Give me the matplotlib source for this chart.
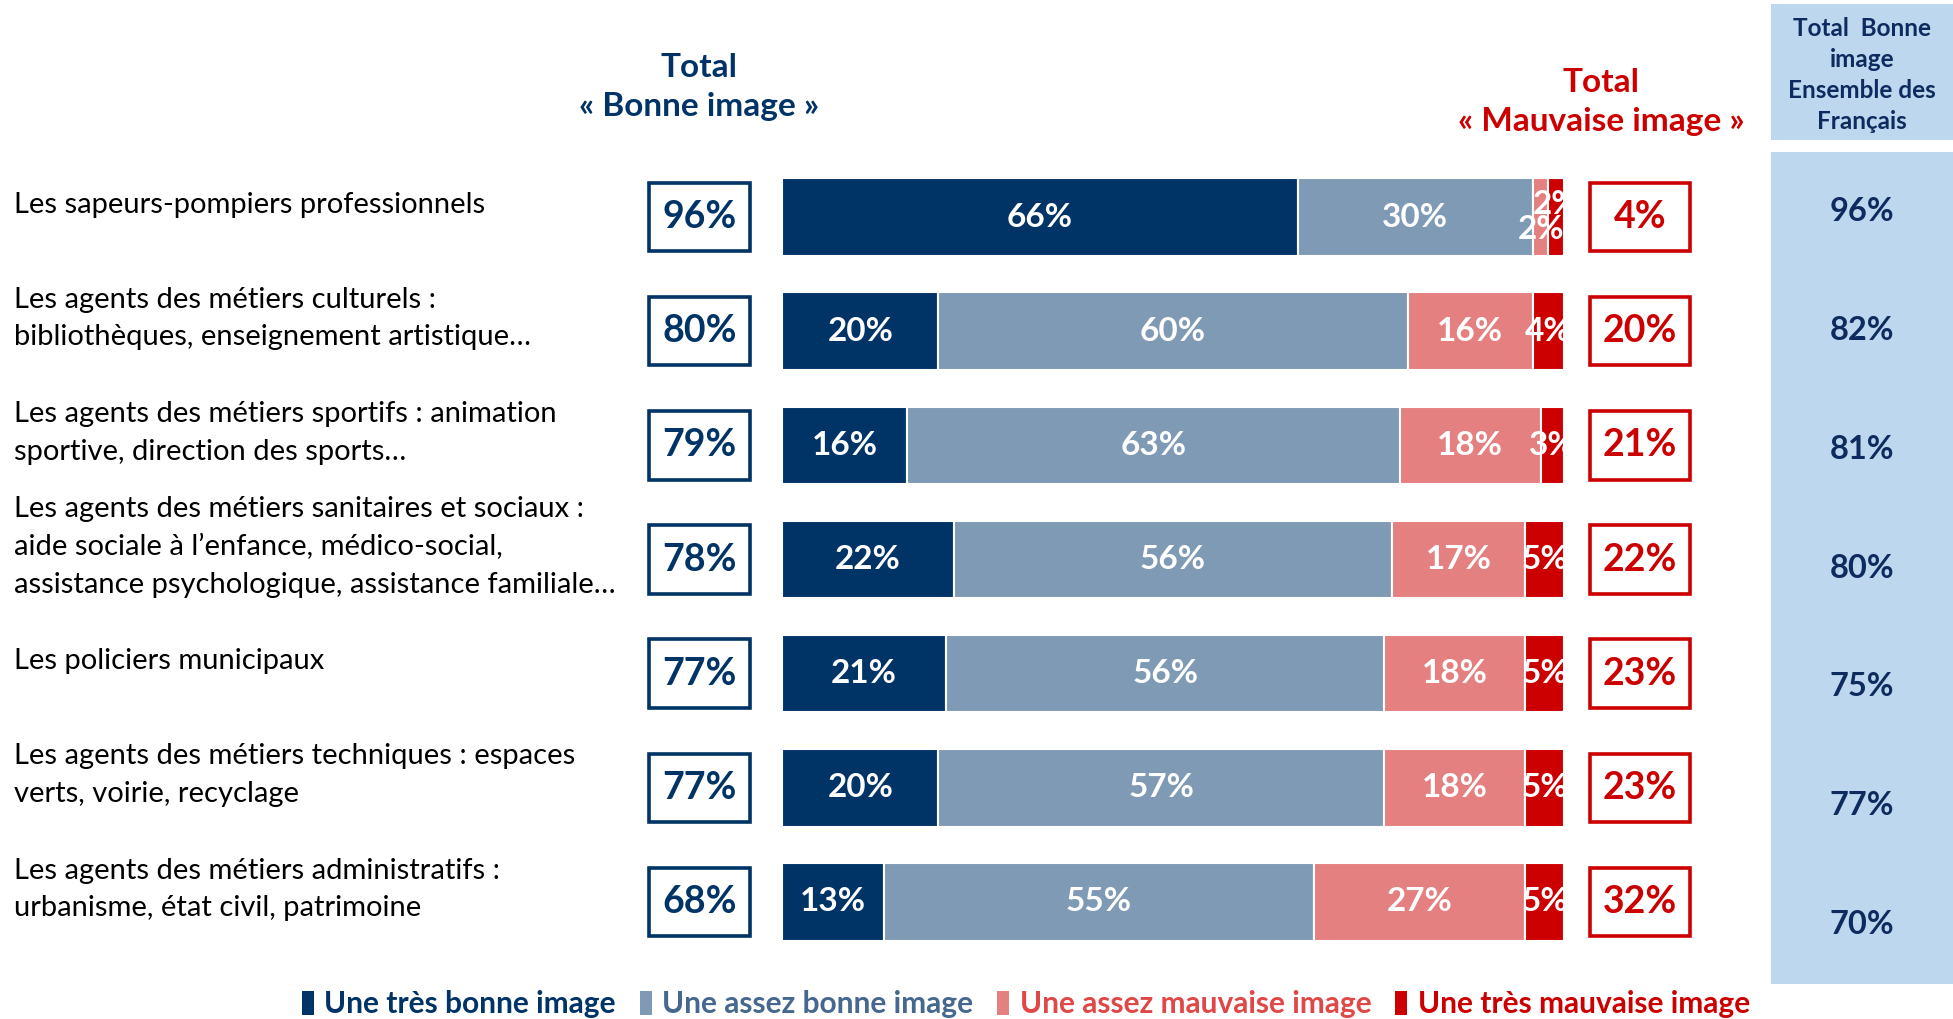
import numpy as np
import matplotlib.pyplot as plt
from matplotlib.patches import Rectangle, Patch

plt.rcParams['font.family'] = ['Lato', 'DejaVu Sans']

# Données
metiers = [
    "Les sapeurs-pompiers professionnels",
    "Les agents des métiers culturels :\nbibliothèques, enseignement artistique…",
    "Les agents des métiers sportifs : animation\nsportive, direction des sports…",
    "Les agents des métiers sanitaires et sociaux :\naide sociale à l’enfance, médico-social,\nassistance psychologique, assistance familiale…",
    "Les policiers municipaux",
    "Les agents des métiers techniques : espaces\nverts, voirie, recyclage",
    "Les agents des métiers administratifs :\nurbanisme, état civil, patrimoine",
]
tres_bonne = [66, 20, 16, 22, 21, 20, 13]
assez_bonne = [30, 60, 63, 56, 56, 57, 55]
assez_mauvaise = [2, 16, 18, 17, 18, 18, 27]
tres_mauvaise = [2, 4, 3, 5, 5, 5, 5]
total_bonne = [96, 80, 79, 78, 77, 77, 68]
total_mauvaise = [4, 20, 21, 22, 23, 23, 32]
ensemble_francais = [96, 82, 81, 80, 75, 77, 70]
series_noms = ["Une très bonne image", "Une assez bonne image",
               "Une assez mauvaise image", "Une très mauvaise image"]

NAVY = "#003366"
couleurs = [NAVY, "#7F9AB4", "#E48080", "#CC0000"]
couleurs_legende = [NAVY, "#46688E", "#E04848", "#CC0000"]
BLEU_COL = "#BDD7EE"
TEXTE_COL = "#0D2B5E"

W, H = 1953, 1019
fig = plt.figure(figsize=(W / 100, H / 100), dpi=100)

# axe des barres : 0-100 % sur 782 px
ax = fig.add_axes([782 / W, 1 - 959 / H, 782 / W, 799 / H])
ax.set_xlim(0, 100)
ax.set_ylim(6.5, -0.5)
ax.axis("off")

def px2x(px):
    return (px - 782) / 7.82

y = np.arange(len(metiers))
series = [tres_bonne, assez_bonne, assez_mauvaise, tres_mauvaise]
gauche = np.zeros(len(metiers))
for k, (vals, c) in enumerate(zip(series, couleurs)):
    ax.barh(y, vals, left=gauche, height=0.68, color=c,
            edgecolor="white", linewidth=1.5, label=series_noms[k])
    for i, v in enumerate(vals):
        cx = gauche[i] + v / 2
        dy = 0
        if i == 0 and k == 2:
            dy = 0.11
        elif i == 0 and k == 3:
            dy = -0.11
        ax.text(cx, i + dy, f"{v}%", ha="center", va="center", color="white",
                fontsize=24, fontweight="bold", clip_on=True)
    gauche += np.array(vals)

# libellés, encadrés des totaux
for i, lab in enumerate(metiers):
    ax.text(px2x(14), i - 0.11, lab, ha="left", va="center", fontsize=21,
            color="black", linespacing=1.55, clip_on=False)
    ax.add_patch(Rectangle((px2x(649), i - 0.3), 101 / 7.82, 0.6, fill=False,
                           edgecolor=NAVY, linewidth=2.6, clip_on=False))
    ax.text(px2x(699.5), i, f"{total_bonne[i]}%", ha="center", va="center",
            color=NAVY, fontsize=27, fontweight="bold", clip_on=False)
    ax.add_patch(Rectangle((px2x(1590), i - 0.3), 100 / 7.82, 0.6, fill=False,
                           edgecolor="#CC0000", linewidth=2.6, clip_on=False))
    ax.text(px2x(1640), i, f"{total_mauvaise[i]}%", ha="center", va="center",
            color="#CC0000", fontsize=27, fontweight="bold", clip_on=False)

# titres des colonnes
fig.text(699 / W, 1 - 87 / H, "Total\n« Bonne image »", ha="center", va="center",
         color=NAVY, fontsize=24, fontweight="bold", linespacing=1.45)
fig.text(1601 / W, 1 - 102 / H, "Total\n« Mauvaise image »", ha="center", va="center",
         color="#CC0000", fontsize=24, fontweight="bold", linespacing=1.45)

# colonne ensemble des Français
axh = fig.add_axes([1771 / W, 1 - 140 / H, 182 / W, 136 / H])
axh.set_facecolor(BLEU_COL)
axh.set_xticks([]); axh.set_yticks([])
for s in axh.spines.values():
    s.set_visible(False)
axh.text(0.5, 0.48, "Total  Bonne\nimage\nEnsemble des\nFrançais", ha="center",
         va="center", color=TEXTE_COL, fontsize=17.5, fontweight="bold",
         linespacing=1.42, transform=axh.transAxes)

axc = fig.add_axes([1771 / W, 1 - 984 / H, 182 / W, 832 / H])
axc.set_facecolor(BLEU_COL)
axc.set_xlim(0, 1)
axc.set_ylim(6.5, -0.5)
axc.set_xticks([]); axc.set_yticks([])
for s in axc.spines.values():
    s.set_visible(False)
for i, v in enumerate(ensemble_francais):
    axc.text(0.5, i, f"{v}%", ha="center", va="center", color=TEXTE_COL,
             fontsize=23.5, fontweight="bold")

# légende
poignees = [Patch(facecolor=c) for c in couleurs]
fig.legend(poignees, series_noms, loc="center", bbox_to_anchor=(1026 / W, 1 - 1004 / H),
           ncol=4, frameon=False, handlelength=0.4, handleheight=0.85,
           handletextpad=0.35, columnspacing=0.8, labelcolor=couleurs_legende,
           prop={"weight": "bold", "size": 21.5})

fig.savefig("out.png", dpi=100)
